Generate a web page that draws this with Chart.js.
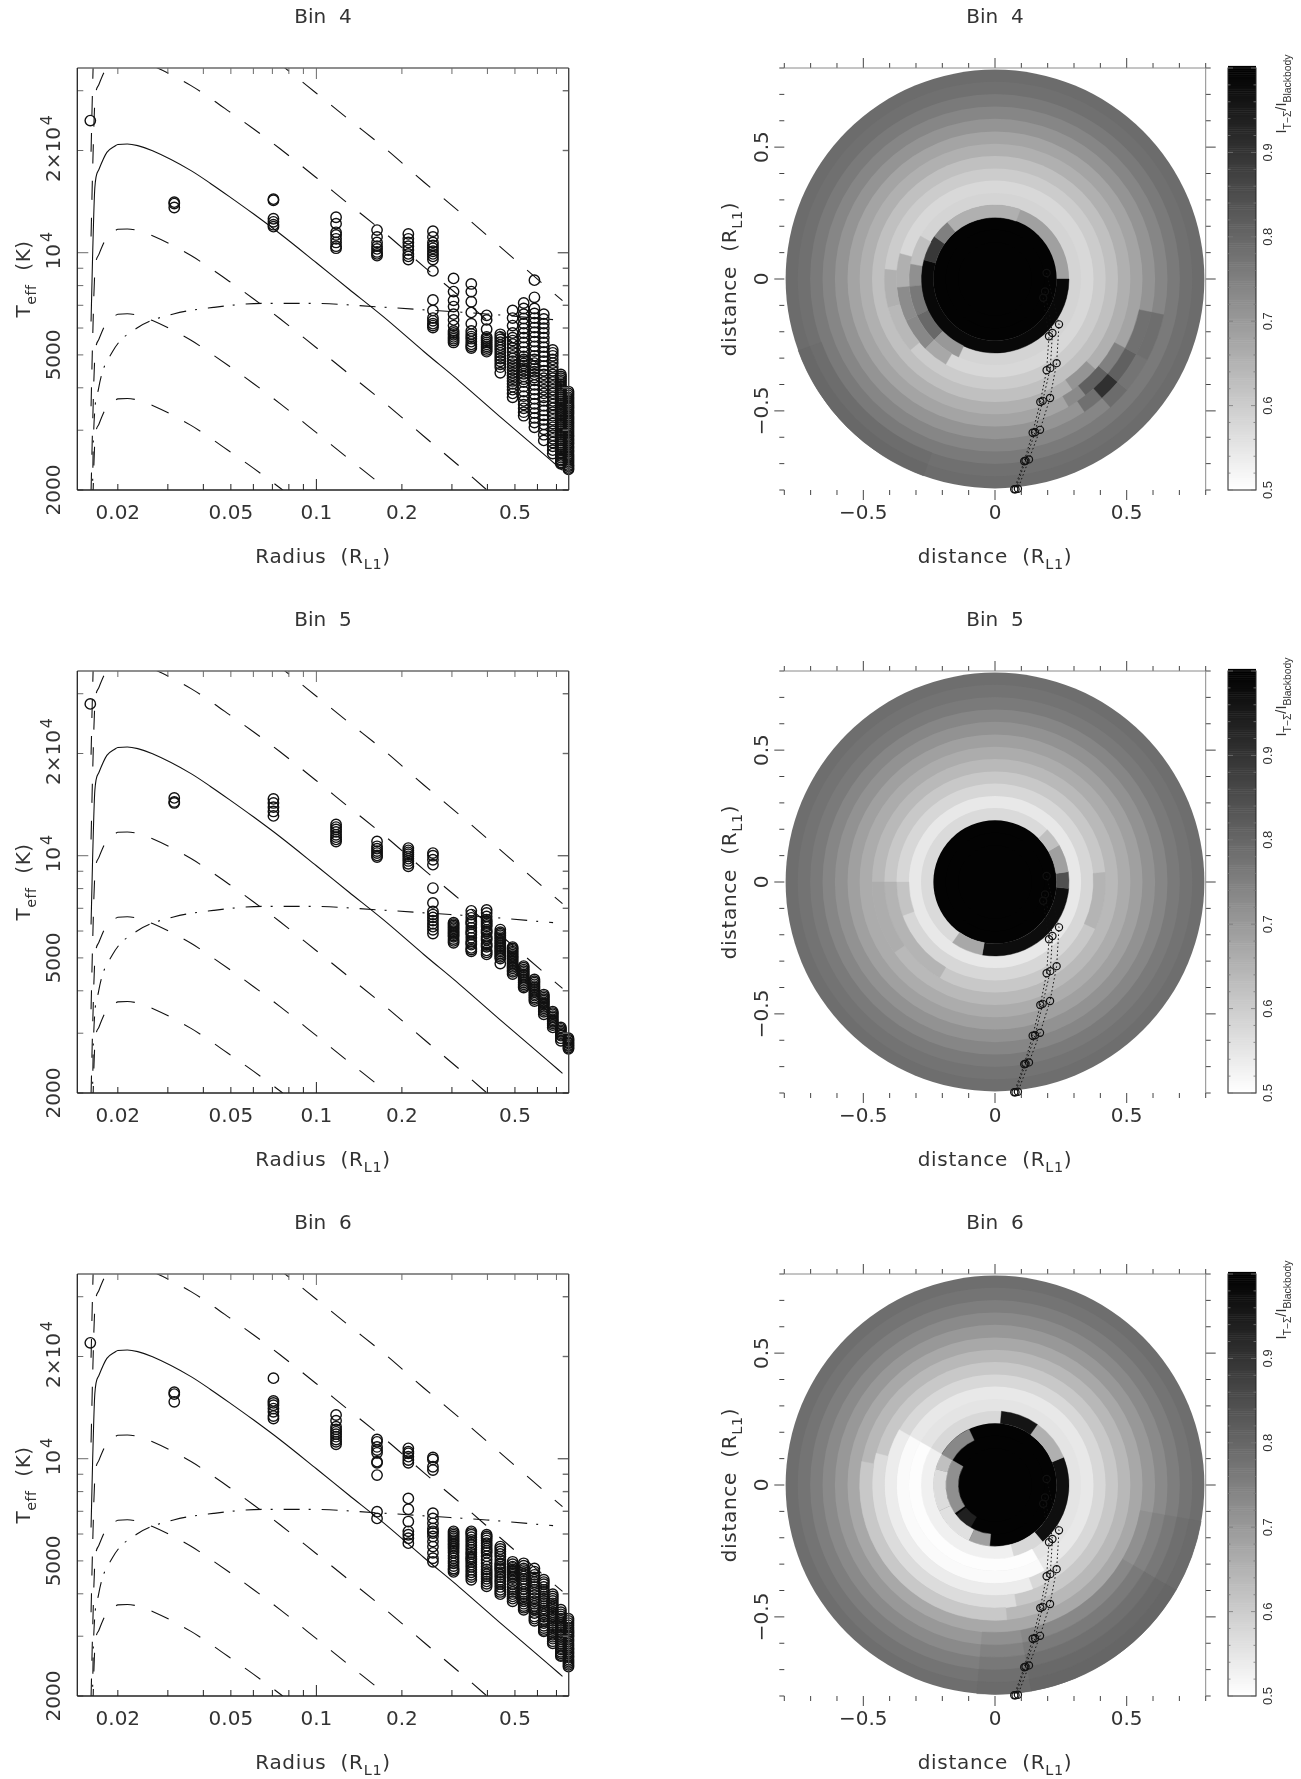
<!DOCTYPE html>
<html>
<head>
<meta charset="utf-8">
<title>Bin 4-6</title>
<script src="https://cdn.jsdelivr.net/npm/chart.js@4"></script>
<style>
html, body { margin: 0; padding: 0; background: #fff; }
body { position: relative; width: 1301px; height: 1779px; overflow: hidden; }
canvas { position: absolute; }
</style>
</head>
<body>
<script>
// --- axes ---
const radiusRange = [0.0144, 0.773];
const teffRange = [2000, 35000];
const distanceRange = [-0.8, 0.8];
const levelRange = [0.5, 1];

const radiusTicks = [0.02, 0.03, 0.04, 0.05, 0.06, 0.07, 0.08, 0.09, 0.1, 0.2, 0.3, 0.4, 0.5, 0.6, 0.7];
const radiusLong = [0.1];
const radiusLabelValues = [0.02, 0.05, 0.1, 0.2, 0.5];
const radiusLabels = ['0.02', '0.05', '0.1', '0.2', '0.5'];
const teffTicks = [2000, 3000, 4000, 5000, 6000, 7000, 8000, 9000, 10000, 20000, 30000];
const teffLong = [10000];
const teffLabelValues = [2000, 5000, 10000, 20000];
const teffLabels = ['2000', '5000', '10^{4}', '2×10^{4}'];
const distanceMajor = [-0.5, 0, 0.5];
const distanceMinor = [-0.8, -0.7, -0.6, -0.4, -0.3, -0.2, -0.1, 0.1, 0.2, 0.3, 0.4, 0.6, 0.7, 0.8];
const distanceLabels = ['−0.5', '0', '0.5'];
const levelLabels = ['0.5', '0.6', '0.7', '0.8', '0.9'];
const levelLabelValues = [0.5, 0.6, 0.7, 0.8, 0.9];

// --- model curves ---
const curveRadius = [0.0161, 0.0163, 0.0166, 0.01714, 0.0183, 0.0195, 0.02, 0.0216, 0.0235, 0.0265, 0.0362, 0.0425, 0.0494, 0.06, 0.0743, 0.1, 0.13, 0.172, 0.24, 0.319, 0.45, 0.66, 0.735];
const curveSolid = [6270, 9740, 15570, 17560, 19750, 20590, 20840, 20900, 20670, 19960, 17450, 15970, 14630, 13020, 11390, 9340, 7820, 6480, 5100, 4180, 3250, 2470, 2285];
const curveLow1 = [3530, 5480, 8750, 9870, 11100, 11570, 11720, 11750, 11620, 11220, 9810, 8980, 8230, 7320, 6400, 5250, 4400, 3640, 2870, 2350, 1830, 1390, 1284];
const curveLow2 = [1980, 3080, 4920, 5550, 6250, 6510, 6590, 6610, 6540, 6310, 5520, 5050, 4630, 4120, 3600, 2950, 2470, 2050, 1610, 1320, 1030, 780, 722];
const curveLow3 = [1120, 1730, 2770, 3120, 3520, 3660, 3710, 3720, 3680, 3550, 3100, 2840, 2600, 2320, 2030, 1660, 1390, 1150, 910, 740, 580, 440, 406];
const curveHigh1 = [11160, 17340, 27710, 31250, 35150, 36640, 37090, 37200, 36790, 35530, 31060, 28440, 26030, 23180, 20270, 16630, 13910, 11530, 9070, 7440, 5790, 4390, 4066];
const curveHigh2 = [19830, 30800, 49240, 55520, 62460, 65110, 65900, 66100, 65400, 63100, 55200, 50500, 46300, 41200, 36000, 29500, 24700, 20500, 16100, 13200, 10300, 7800, 7225];
const dashDotRadius = [0.0161, 0.0163, 0.0164, 0.0171, 0.0191, 0.0236, 0.0314, 0.0434, 0.0642, 0.0976, 0.163, 0.258, 0.398, 0.681];
const dashDotTeff = [1800, 2090, 2800, 3970, 5090, 6030, 6600, 6900, 7090, 7090, 6930, 6760, 6600, 6350];

// --- ring radii of the measured points ---
const ringRadius = [0.016, 0.0316, 0.0706, 0.1173, 0.1635, 0.2107, 0.2572, 0.304, 0.351, 0.3975, 0.444, 0.4906, 0.5367, 0.5855, 0.6317, 0.6792, 0.7255, 0.7716];

const teffBin4 = [
  [24500],
  [14090, 13950, 13590],
  [14380, 14270, 12590, 12330, 12090, 11930],
  [12720, 12180, 11480, 11280, 10990, 10720, 10450, 10310],
  [11660, 11130, 10720, 10450, 10260, 10050, 9920, 9800],
  [11360, 10990, 10720, 10450, 10180, 9920, 9750, 9550],
  [11570, 11130, 10720, 10500, 10310, 10100, 9920, 9750, 9550, 8840, 7260, 6760, 6420, 6300, 6180, 6100, 6020],
  [8400, 7680, 7240, 6940, 6590, 6340, 6100, 5880, 5800, 5730, 5650, 5580, 5510, 5440],
  [8090, 7680, 7170, 6670, 6180, 5880, 5760, 5660, 5580, 5470, 5370, 5300, 5240],
  [6540, 6340, 5950, 5650, 5580, 5510, 5440, 5370, 5300, 5240, 5170, 5110],
  [5750, 5650, 5550, 5450, 5350, 5260, 5170, 5070, 4970, 4880, 4790, 4690, 4600, 4430],
  [6760, 6420, 6100, 5800, 5620, 5510, 5380, 5240, 5100, 4970, 4880, 4790, 4700, 4610, 4520, 4430, 4350, 4270, 4190, 4110, 4030, 3950, 3850, 3750],
  [7110, 6850, 6590, 6400, 6180, 5980, 5800, 5620, 5440, 5270, 5100, 4950, 4850, 4790, 4720, 4650, 4570, 4490, 4400, 4320, 4240, 4160, 4030, 3900, 3780, 3660, 3570, 3480, 3390, 3310],
  [8300, 7390, 6850, 6620, 6420, 6220, 6020, 5830, 5650, 5470, 5300, 5130, 4970, 4850, 4730, 4640, 4550, 4460, 4380, 4290, 4210, 4080, 3950, 3830, 3710, 3590, 3480, 3370, 3260, 3160, 3060],
  [6590, 6380, 6180, 5990, 5800, 5620, 5440, 5270, 5100, 4950, 4790, 4640, 4490, 4380, 4270, 4160, 4050, 3950, 3850, 3750, 3660, 3540, 3430, 3320, 3220, 3120, 3020, 2910, 2800],
  [5170, 5070, 4970, 4850, 4730, 4610, 4490, 4380, 4270, 4160, 4050, 3950, 3850, 3750, 3660, 3570, 3480, 3390, 3310, 3220, 3140, 3060, 2980, 2900, 2830, 2760, 2690, 2620, 2560],
  [4380, 4320, 4270, 4210, 4160, 4100, 4050, 4000, 3950, 3900, 3850, 3800, 3750, 3700, 3650, 3600, 3560, 3510, 3470, 3430, 3390, 3340, 3300, 3260, 3220, 3180, 3140, 3100, 3060, 3020, 2980, 2940, 2910, 2870, 2830, 2800, 2760, 2720, 2690, 2650, 2620, 2580, 2550, 2520, 2490, 2460, 2440, 2410, 2390],
  [3900, 3850, 3800, 3750, 3710, 3660, 3610, 3560, 3520, 3480, 3430, 3390, 3350, 3300, 3260, 3220, 3180, 3140, 3100, 3060, 3020, 2980, 2940, 2900, 2870, 2830, 2800, 2760, 2730, 2690, 2660, 2620, 2590, 2550, 2520, 2490, 2460, 2430, 2400, 2370, 2350, 2320, 2300]
];
const teffBin5 = [
  [28000],
  [14800, 14400, 14300],
  [14700, 14300, 13900, 13500, 13100],
  [12360, 12140, 11950, 11750, 11520, 11340, 11170, 11010],
  [11010, 10660, 10490, 10320, 10180, 10020, 9910],
  [10530, 10370, 10230, 10100, 9960, 9800, 9650, 9470, 9310],
  [10180, 10000, 9730, 9410, 8030, 7260, 6850, 6710, 6580, 6440, 6300, 6180, 6050, 5900],
  [6350, 6290, 6230, 6170, 6110, 6050, 5990, 5930, 5880, 5820, 5770, 5680, 5610, 5540],
  [6880, 6710, 6560, 6420, 6350, 6280, 6130, 6000, 5930, 5860, 5730, 5600, 5530, 5470, 5350, 5290, 5230],
  [6920, 6780, 6620, 6480, 6400, 6330, 6250, 6180, 6050, 5980, 5920, 5780, 5710, 5650, 5510, 5450, 5390, 5260, 5190, 5120],
  [6060, 5950, 5890, 5830, 5760, 5700, 5630, 5570, 5500, 5440, 5380, 5330, 5270, 5220, 5160, 5100, 5040, 4980, 4810],
  [5380, 5330, 5280, 5220, 5170, 5110, 5060, 5010, 4960, 4910, 4860, 4810, 4760, 4710, 4660, 4600, 4550, 4480],
  [4730, 4680, 4620, 4570, 4520, 4470, 4430, 4380, 4330, 4280, 4230, 4180, 4130, 4090],
  [4320, 4270, 4230, 4180, 4130, 4090, 4050, 4000, 3960, 3910, 3870, 3820, 3780, 3730],
  [3900, 3860, 3820, 3780, 3740, 3700, 3670, 3630, 3590, 3550, 3510, 3470, 3410],
  [3470, 3440, 3410, 3370, 3340, 3300, 3270, 3240, 3210, 3170, 3120],
  [3120, 3090, 3060, 3030, 3000, 2970, 2950, 2900, 2850],
  [2900, 2870, 2850, 2820, 2800, 2770, 2750, 2720, 2700]
];
const teffBin6 = [
  [21940],
  [15700, 15500, 14710],
  [17270, 14800, 14600, 14370, 14050, 13740, 13350, 13130],
  [13450, 12940, 12420, 12200, 12000, 11810, 11610, 11390, 11210, 11030],
  [11390, 11210, 10830, 10600, 10410, 9800, 9730, 8950, 6980, 6670],
  [10730, 10490, 10370, 10140, 9910, 9730, 7640, 7100, 6530, 6110, 5970, 5830, 5640],
  [10090, 9950, 9470, 9260, 6910, 6670, 6450, 6230, 6110, 6040, 5900, 5700, 5510, 5280, 5090, 4970],
  [6110, 6040, 5970, 5900, 5830, 5760, 5700, 5630, 5570, 5500, 5440, 5360, 5280, 5180, 5090, 5000, 4920, 4830, 4750, 4700, 4640],
  [6110, 6040, 5970, 5870, 5770, 5670, 5570, 5480, 5390, 5300, 5240, 5150, 5090, 5040, 4960, 4880, 4800, 4710, 4630, 4550, 4480, 4400],
  [5970, 5900, 5830, 5740, 5640, 5540, 5440, 5360, 5280, 5160, 5040, 4920, 4810, 4720, 4640, 4570, 4500, 4430, 4350, 4280, 4210],
  [5510, 5420, 5330, 5240, 5150, 5030, 4920, 4880, 4810, 4760, 4710, 4630, 4550, 4480, 4400, 4340, 4270, 4190, 4110, 4050, 3990],
  [4970, 4890, 4810, 4770, 4720, 4680, 4640, 4590, 4550, 4500, 4450, 4360, 4270, 4190, 4110, 4050, 3990, 3930, 3870, 3800],
  [4920, 4840, 4750, 4700, 4640, 4570, 4500, 4420, 4350, 4280, 4210, 4130, 4050, 3990, 3930, 3860, 3800, 3740, 3680, 3640, 3590],
  [4750, 4650, 4550, 4470, 4400, 4330, 4270, 4190, 4110, 4030, 3960, 3880, 3800, 3740, 3680, 3630, 3590, 3510, 3430, 3380, 3330],
  [4400, 4330, 4270, 4190, 4110, 4050, 3990, 3930, 3870, 3810, 3750, 3680, 3620, 3570, 3530, 3480, 3430, 3350, 3280, 3220, 3170, 3130, 3100],
  [3990, 3930, 3870, 3810, 3750, 3700, 3650, 3590, 3530, 3480, 3430, 3380, 3330, 3280, 3230, 3180, 3130, 3080, 3030, 2990, 2950, 2900, 2860],
  [3590, 3530, 3480, 3430, 3380, 3330, 3280, 3230, 3180, 3130, 3080, 3030, 2990, 2940, 2900, 2850, 2810, 2770, 2740, 2700, 2670, 2640, 2620],
  [3380, 3330, 3280, 3230, 3180, 3130, 3090, 3060, 3020, 2990, 2940, 2900, 2850, 2810, 2770, 2740, 2700, 2670, 2630, 2600, 2560, 2530, 2500, 2470, 2440]
];

// --- disc maps: ring edges, mean level per ring, then [ring, from deg, to deg, level] ---
const ringEdges = [0, 0.14, 0.187, 0.234, 0.281, 0.327, 0.374, 0.42, 0.467, 0.514, 0.56, 0.608, 0.655, 0.702, 0.749, 0.795];
const levelsBin4 = [0.995, 0.995, 0.995, 0.686, 0.585, 0.576, 0.6, 0.624, 0.655, 0.678, 0.71, 0.737, 0.761, 0.78, 0.788];
const levelsBin5 = [0.995, 0.995, 0.995, 0.573, 0.545, 0.578, 0.608, 0.637, 0.663, 0.686, 0.714, 0.737, 0.761, 0.775, 0.784];
const levelsBin6 = [0.995, 0.995, 0.995, 0.576, 0.553, 0.545, 0.576, 0.608, 0.639, 0.671, 0.702, 0.729, 0.753, 0.773, 0.784];
const patchesBin4 = [
  [3, 165, 360, 0.985], [3, 145, 165, 0.89], [3, 130, 145, 0.749], [3, 70, 130, 0.655],
  [4, 150, 170, 0.624], [4, 170, 185, 0.718], [4, 185, 205, 0.765], [4, 205, 225, 0.796], [4, 225, 245, 0.702],
  [5, 165, 185, 0.655], [5, 185, 205, 0.725], [5, 205, 225, 0.733], [5, 225, 240, 0.671],
  [6, 175, 195, 0.655], [6, 195, 220, 0.639],
  [8, -55, -42, 0.71],
  [9, -60, -52, 0.729], [9, -52, -40, 0.812], [9, -40, -28, 0.749],
  [10, -56, -48, 0.78], [10, -48, -40, 0.906], [10, -40, -28, 0.812], [10, -28, -12, 0.78],
  [11, -48, -40, 0.788], [11, -40, -28, 0.773], [11, -28, -12, 0.784],
  [13, 200, 250, 0.786], [14, 200, 250, 0.796]
];
const patchesBin5 = [
  [3, -100, -5, 0.975], [3, -5, 8, 0.843], [3, 8, 30, 0.686], [3, 30, 45, 0.624], [3, -125, -100, 0.671],
  [5, 180, 200, 0.616], [6, 180, 240, 0.647], [6, -25, 5, 0.647], [7, 180, 215, 0.66]
];
const patchesBin6 = [
  [1, 150, 215, 0.718], [1, 218, 240, 0.937],
  [2, 115, 150, 0.733], [2, 150, 165, 0.624], [2, 165, 205, 0.569], [2, 205, 245, 0.561], [2, 245, 265, 0.686],
  [3, -50, 22, 0.97], [3, 22, 55, 0.655], [3, 55, 85, 0.96], [3, 150, 285, 0.529], [3, 285, 310, 0.576],
  [4, 150, 300, 0.504], [5, 150, 300, 0.51], [6, 150, 290, 0.537], [7, 165, 280, 0.569], [8, 170, 275, 0.608],
  [10, -95, -80, 0.718], [10, -80, -30, 0.733], [10, -30, -10, 0.718],
  [11, -95, -80, 0.745], [11, -80, -30, 0.761], [11, -30, -10, 0.745],
  [12, -95, -80, 0.765], [12, -80, -30, 0.78], [12, -30, -10, 0.765],
  [13, -95, -80, 0.783], [13, -80, -30, 0.794], [13, -30, -10, 0.783],
  [14, -95, -80, 0.79], [14, -80, -30, 0.8], [14, -30, -10, 0.79]
];

// --- stream paths over the maps ---
const streamAx = [0.196, 0.243, 0.234, 0.209, 0.171, 0.129, 0.087];
const streamAy = [0.023, -0.172, -0.319, -0.451, -0.572, -0.684, -0.795];
const streamBx = [0.19, 0.218, 0.21, 0.181, 0.152, 0.116, 0.078];
const streamBy = [-0.047, -0.205, -0.338, -0.462, -0.581, -0.689, -0.797];
const streamCx = [0.183, 0.205, 0.196, 0.172, 0.143, 0.111, 0.073];
const streamCy = [-0.071, -0.217, -0.346, -0.466, -0.583, -0.691, -0.797];

const binNames = ['Bin  4', 'Bin  5', 'Bin  6'];

// --- layout ---
const rowTops = [68, 671, 1274];
const frameH = 422;
const canvasH = 573;
const leftPanel = { x: 0, w: 640, left: 77.3, right: 568.7 };
const rightPanel = { x: 640, w: 661, left: 784.3, right: 1205.7 };
const barLeft = 1228, barRight = 1256;
const mainFont = '"DejaVu Sans"';
const barFont = '"Liberation Sans"';
const textColor = '#333';

function levelColor(v) {
  const g = Math.max(0, Math.min(255, Math.round(255 * (1 - v) * 2)));
  return `rgb(${g},${g},${g})`;
}

// "T_{eff}" / "10^{4}" style text, centred on x,y
function richText(ctx, str, x, y, angle, size, family, spacing) {
  const runs = str.split(/(_\{[^}]*\}|\^\{[^}]*\})/).filter(s => s !== '').map(s => {
    if (s[0] === '_') return { t: s.slice(2, -1), s: size * 0.72, dy: size * 0.3, gap: 0 };
    if (s[0] === '^') return { t: s.slice(2, -1), s: size * 0.8, dy: -size * 0.42, gap: 2 };
    return { t: s, s: size, dy: 0, gap: 0 };
  });
  ctx.save();
  ctx.translate(x, y);
  ctx.rotate(angle);
  ctx.fillStyle = textColor;
  ctx.textBaseline = 'alphabetic';
  ctx.textAlign = 'left';
  ctx.letterSpacing = (spacing || 0) + 'px';
  let w = 0;
  runs.forEach(r => { ctx.font = `${r.s}px ${family}`; w += ctx.measureText(r.t).width + r.gap; });
  let px = -w / 2;
  runs.forEach(r => {
    ctx.font = `${r.s}px ${family}`;
    px += r.gap;
    ctx.fillText(r.t, px, size * 0.36 + r.dy);
    px += ctx.measureText(r.t).width;
  });
  ctx.restore();
}

function line(ctx, x0, y0, x1, y1, color, width) {
  ctx.strokeStyle = color;
  ctx.lineWidth = width;
  ctx.beginPath();
  ctx.moveTo(x0, y0);
  ctx.lineTo(x1, y1);
  ctx.stroke();
}

const spectrumFrame = {
  id: 'spectrumFrame',
  afterDatasetsDraw(chart, args, opts) {
    const { ctx, chartArea: a, scales: { x, y } } = chart;
    const dark = '#222', grey = '#6a6a6a';
    ctx.save();
    radiusTicks.forEach(v => {
      const px = x.getPixelForValue(v);
      const len = radiusLong.includes(v) ? 11 : 6;
      line(ctx, px, a.bottom, px, a.bottom - len, dark, 1);
      line(ctx, px, a.top, px, a.top + len, grey, 1);
    });
    teffTicks.forEach(v => {
      const py = y.getPixelForValue(v);
      const len = teffLong.includes(v) ? 11 : 6;
      line(ctx, a.left, py, a.left + len, py, grey, 1);
      line(ctx, a.right, py, a.right - len, py, grey, 1.4);
    });
    line(ctx, a.left, a.top, a.right, a.top, grey, 1.4);
    line(ctx, a.right, a.top, a.right, a.bottom, '#444', 1.4);
    line(ctx, a.left, a.top, a.left, a.bottom, '#222', 1.3);
    line(ctx, a.left, a.bottom, a.right, a.bottom, '#222', 1.3);
    radiusLabels.forEach((t, i) => richText(ctx, t, x.getPixelForValue(radiusLabelValues[i]), a.bottom + 22, 0, 20, mainFont));
    teffLabels.forEach((t, i) => richText(ctx, t, 53, y.getPixelForValue(teffLabelValues[i]) - (i > 1 ? 2 : 0), -Math.PI / 2, 20, mainFont));
    richText(ctx, opts.title, (a.left + a.right) / 2, a.top - 52, 0, 20, mainFont);
    richText(ctx, 'Radius  (R_{L1})', (a.left + a.right) / 2, a.bottom + 66, 0, 20, mainFont, 0.7);
    richText(ctx, 'T_{eff}  (K)', 23, (a.top + a.bottom) / 2, -Math.PI / 2, 20, mainFont, 0.5);
    ctx.restore();
  }
};

const discMap = {
  id: 'discMap',
  beforeDatasetsDraw(chart, args, opts) {
    const { ctx, scales: { x, y } } = chart;
    const cx = x.getPixelForValue(0), cy = y.getPixelForValue(0);
    const unit = x.getPixelForValue(1) - cx;
    ctx.save();
    // whole discs from the outside in, so no seams between rings
    for (let i = opts.levels.length - 1; i >= 0; i--) {
      ctx.fillStyle = levelColor(opts.levels[i]);
      ctx.beginPath();
      ctx.arc(cx, cy, ringEdges[i + 1] * unit, 0, Math.PI * 2);
      ctx.fill();
    }
    opts.patches.forEach(p => {
      const from = -p[1] * Math.PI / 180, to = -p[2] * Math.PI / 180;
      ctx.fillStyle = ctx.strokeStyle = levelColor(p[3]);
      ctx.lineWidth = 0.4;
      ctx.beginPath();
      ctx.arc(cx, cy, ringEdges[p[0] + 1] * unit, from, to, true);
      ctx.arc(cx, cy, ringEdges[p[0]] * unit, to, from, false);
      ctx.closePath();
      ctx.fill();
      ctx.stroke();
    });
    ctx.restore();
  },
  afterDatasetsDraw(chart, args, opts) {
    const { ctx, chartArea: a, scales: { x, y, level } } = chart;
    const dark = '#444', grey = '#8a8a8a';
    const bl = barLeft - chart.canvas.offsetLeft, br = barRight - chart.canvas.offsetLeft;
    ctx.save();
    distanceMajor.concat(distanceMinor).forEach(v => {
      const len = distanceMajor.includes(v) ? 10 : 5;
      const px = x.getPixelForValue(v), py = y.getPixelForValue(v);
      line(ctx, px, a.bottom, px, a.bottom + len, dark, 1);
      line(ctx, px, a.top, px, a.top - len, dark, 1);
      line(ctx, a.left, py, a.left - len, py, dark, 1);
      line(ctx, a.right, py, a.right + len, py, dark, 1);
    });
    line(ctx, a.left, a.top, a.right, a.top, grey, 1);
    line(ctx, a.right, a.top, a.right, a.bottom, grey, 1);
    distanceLabels.forEach((t, i) => {
      richText(ctx, t, x.getPixelForValue(distanceMajor[i]), a.bottom + 22, 0, 20, mainFont);
      richText(ctx, t, 121, y.getPixelForValue(distanceMajor[i]), -Math.PI / 2, 20, mainFont);
    });
    richText(ctx, opts.title, (a.left + a.right) / 2, a.top - 52, 0, 20, mainFont);
    richText(ctx, 'distance  (R_{L1})', (a.left + a.right) / 2, a.bottom + 66, 0, 20, mainFont, 0.7);
    richText(ctx, 'distance  (R_{L1})', 89, (a.top + a.bottom) / 2, -Math.PI / 2, 20, mainFont, 0.7);

    // colour bar, on its own scale
    for (let v = levelRange[0]; v < levelRange[1]; v += 0.0025) {
      const top = level.getPixelForValue(v + 0.0025);
      ctx.fillStyle = levelColor(v);
      ctx.fillRect(bl, top, br - bl, level.getPixelForValue(v) - top + 0.5);
    }
    ctx.strokeStyle = '#222';
    ctx.lineWidth = 1;
    ctx.strokeRect(bl, a.top, br - bl, a.bottom - a.top);
    for (let i = 0; i <= 25; i++) {
      const py = level.getPixelForValue(levelRange[0] + i * 0.02);
      const len = i % 5 === 0 ? 5 : 2.5;
      line(ctx, bl, py, bl + len, py, '#777', 0.8);
      line(ctx, br, py, br - len, py, '#777', 0.8);
    }
    levelLabels.forEach((t, i) => richText(ctx, t, br + 11, level.getPixelForValue(levelLabelValues[i]), -Math.PI / 2, 13, barFont));
    richText(ctx, 'I_{T−Σ}/I_{Blackbody}', br + 25, a.top + 26, -Math.PI / 2, 14.5, barFont);
    ctx.restore();
  }
};

function makeCanvas(panel, top) {
  const c = document.createElement('canvas');
  c.width = panel.w;
  c.height = canvasH;
  c.style.left = panel.x + 'px';
  c.style.top = (top - 68) + 'px';
  c.style.width = panel.w + 'px';
  c.style.height = canvasH + 'px';
  document.body.appendChild(c);
  return c;
}

function panelPadding(panel) {
  return { left: panel.left - panel.x, right: panel.x + panel.w - panel.right, top: 68, bottom: canvasH - 68 - frameH };
}

function curve(radii, teff, dash) {
  return {
    data: radii.map((r, i) => ({ x: r, y: teff[i] })),
    showLine: true,
    pointRadius: 0,
    borderColor: '#111',
    borderWidth: 1.1,
    borderDash: dash,
    cubicInterpolationMode: 'monotone'
  };
}

function drawSpectrum(row, columns) {
  const points = [];
  columns.forEach((col, i) => col.forEach(t => points.push({ x: ringRadius[i], y: t })));
  const longDash = [19, 17.6];
  new Chart(makeCanvas(leftPanel, rowTops[row]), {
    type: 'scatter',
    data: {
      datasets: [
        { data: points, pointStyle: 'circle', pointRadius: 5.2, pointBorderWidth: 1.4, pointBorderColor: '#111', pointBackgroundColor: 'rgba(0,0,0,0)', clip: false },
        curve(curveRadius, curveSolid, []),
        curve(curveRadius, curveLow1, longDash),
        curve(curveRadius, curveLow2, longDash),
        curve(curveRadius, curveLow3, longDash),
        curve(curveRadius, curveHigh1, longDash),
        curve(curveRadius, curveHigh2, longDash),
        curve(dashDotRadius, dashDotTeff, [16, 9, 2, 11])
      ]
    },
    options: {
      responsive: false,
      devicePixelRatio: 1,
      animation: false,
      events: [],
      layout: { padding: panelPadding(leftPanel) },
      plugins: { legend: { display: false }, tooltip: { enabled: false }, spectrumFrame: { title: binNames[row] } },
      scales: {
        x: { type: 'logarithmic', min: radiusRange[0], max: radiusRange[1], display: false },
        y: { type: 'logarithmic', min: teffRange[0], max: teffRange[1], display: false }
      }
    },
    plugins: [spectrumFrame]
  });
}

function stream(xs, ys) {
  return {
    data: xs.map((x, i) => ({ x: x, y: ys[i] })),
    showLine: true,
    borderColor: '#111',
    borderWidth: 1,
    borderDash: [1.5, 2.5],
    pointRadius: 3.6,
    pointBorderWidth: 1.2,
    pointBorderColor: '#111',
    pointBackgroundColor: 'rgba(0,0,0,0)',
    clip: false
  };
}

function drawMap(row, levels, patches) {
  new Chart(makeCanvas(rightPanel, rowTops[row]), {
    type: 'scatter',
    data: { datasets: [stream(streamAx, streamAy), stream(streamBx, streamBy), stream(streamCx, streamCy)] },
    options: {
      responsive: false,
      devicePixelRatio: 1,
      animation: false,
      events: [],
      layout: { padding: panelPadding(rightPanel) },
      plugins: { legend: { display: false }, tooltip: { enabled: false }, discMap: { title: binNames[row], levels: levels, patches: patches } },
      scales: {
        x: { type: 'linear', min: distanceRange[0], max: distanceRange[1], display: false },
        y: { type: 'linear', min: distanceRange[0], max: distanceRange[1], display: false },
        level: { type: 'linear', axis: 'y', min: levelRange[0], max: levelRange[1], display: false }
      }
    },
    plugins: [discMap]
  });
}

drawSpectrum(0, teffBin4);
drawMap(0, levelsBin4, patchesBin4);
drawSpectrum(1, teffBin5);
drawMap(1, levelsBin5, patchesBin5);
drawSpectrum(2, teffBin6);
drawMap(2, levelsBin6, patchesBin6);
</script>
</body>
</html>
